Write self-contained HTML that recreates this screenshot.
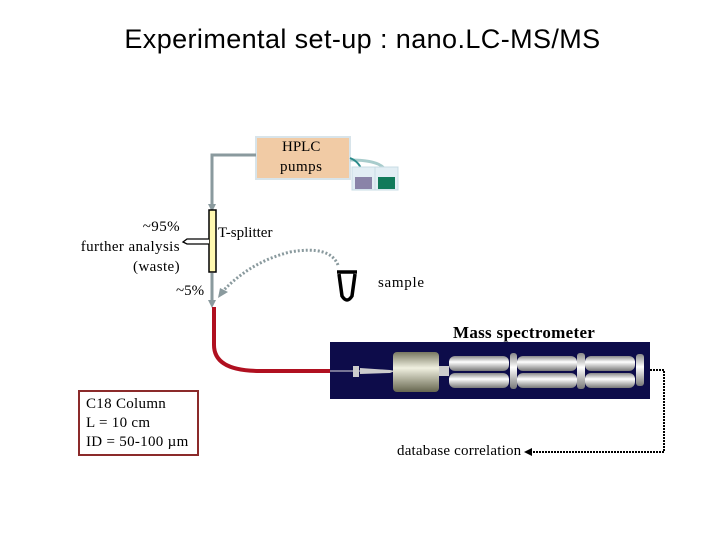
<!DOCTYPE html>
<html><head><style>
body{margin:0;width:720px;height:540px;background:#fff;position:relative;overflow:hidden;font-family:"Liberation Serif",serif;}
.t{position:absolute;white-space:nowrap;color:#000;}
</style></head><body>
<div class="t" style="left:0;width:725px;text-align:center;top:24px;font-family:'Liberation Sans',sans-serif;font-size:27px;letter-spacing:0.4px">Experimental set-up :  nano.LC-MS/MS</div>
<svg width="720" height="540" style="position:absolute;left:0;top:0">
<defs>
<linearGradient id="cyl" x1="0" y1="0" x2="0" y2="1"><stop offset="0" stop-color="#888"/><stop offset="0.4" stop-color="#fff"/><stop offset="1" stop-color="#777"/></linearGradient>
<linearGradient id="src" x1="0" y1="0" x2="0" y2="1"><stop offset="0" stop-color="#777760"/><stop offset="0.4" stop-color="#f0f0e0"/><stop offset="1" stop-color="#66664f"/></linearGradient>
</defs>
<rect x="256" y="137" width="94" height="42" fill="#f1cba5" stroke="#d8e4ea" stroke-width="2"/>
<path d="M350 160 Q380 160 385 170" fill="none" stroke="#a8cccc" stroke-width="3"/>
<path d="M350 158 Q360 162 362 172" fill="none" stroke="#2a8a8a" stroke-width="2"/>
<rect x="352" y="167" width="23" height="23" fill="#e2eef4" stroke="#c8dce4"/>
<rect x="375" y="167" width="23" height="23" fill="#e2eef4" stroke="#c8dce4"/>
<rect x="355" y="177" width="17" height="12" fill="#8a84a8"/>
<rect x="378" y="177" width="17" height="12" fill="#117a5a"/>
<path d="M256 155 H212 V206" fill="none" stroke="#8a9a9e" stroke-width="3"/>
<polygon points="208,204 216,204 212,212" fill="#8a9a9e"/>
<rect x="209" y="210" width="7" height="62" fill="#fff8b0" stroke="#000" stroke-width="1.5"/>
<path d="M209 239 H187 L183 242 L187 244 H209" fill="#fff" stroke="#000" stroke-width="1.3"/>
<path d="M212 273 V302" stroke="#8a9a9e" stroke-width="3"/>
<polygon points="208,300 216,300 212,308" fill="#8a9a9e"/>
<path d="M214 307 V345 Q214 371 260 371 H330" fill="none" stroke="#b01020" stroke-width="4"/>
<path d="M338 265 Q330 245 290 252 Q250 262 222 292" fill="none" stroke="#8a9a9e" stroke-width="3" stroke-dasharray="2,2"/>
<polygon points="218,298 220,288 228,292" fill="#8a9a9e"/>
<path d="M337 272 H357 M339 274 L342 296 Q347 304 352 296 L355 274" fill="none" stroke="#000" stroke-width="3.5"/>
<rect x="330" y="342" width="320" height="57" fill="#0d0c4a"/>
<line x1="330" y1="371" x2="360" y2="371" stroke="#ddd" stroke-width="1"/>
<rect x="353" y="366" width="6" height="11" fill="#ccc"/>
<polygon points="360,368 390,370 395,371 390,373 360,374" fill="#ccc"/>
<rect x="393" y="352" width="46" height="40" rx="4" fill="url(#src)"/>
<rect x="439" y="366" width="10" height="10" fill="#ccc"/>
<rect x="449" y="356" width="60" height="15" rx="6" fill="url(#cyl)"/>
<rect x="449" y="373" width="60" height="15" rx="6" fill="url(#cyl)"/>
<rect x="510" y="353" width="7" height="36" rx="3" fill="url(#cyl)"/>
<rect x="517" y="356" width="60" height="15" rx="6" fill="url(#cyl)"/>
<rect x="517" y="373" width="60" height="15" rx="6" fill="url(#cyl)"/>
<rect x="577" y="353" width="8" height="36" rx="3" fill="url(#cyl)"/>
<rect x="585" y="356" width="50" height="15" rx="6" fill="url(#cyl)"/>
<rect x="585" y="373" width="50" height="15" rx="6" fill="url(#cyl)"/>
<rect x="636" y="354" width="8" height="32" rx="3" fill="url(#cyl)"/>
<path d="M650 370 H664 V452 H530" fill="none" stroke="#000" stroke-width="2" stroke-dasharray="2,1"/>
<polygon points="524,452 532,448 532,456" fill="#000"/>
<rect x="79" y="391" width="119" height="64" fill="#fff" stroke="#8b2a2a" stroke-width="2"/>
</svg>
<div class="t" style="left:282px;top:139px;font-size:15px;">HPLC</div>
<div class="t" style="left:280px;top:159px;font-size:15px;letter-spacing:0.5px">pumps</div>
<div class="t" style="left:218px;top:225px;font-size:15px;">T-splitter</div>
<div class="t" style="left:70px;top:217px;width:110px;text-align:right;font-size:15px;line-height:20px;letter-spacing:0.4px">~95%<br>further analysis<br>(waste)</div>
<div class="t" style="left:176px;top:283px;font-size:15px;">~5%</div>
<div class="t" style="left:378px;top:275px;font-size:15px;letter-spacing:0.7px">sample</div>
<div class="t" style="left:453px;top:323px;font-size:17px;font-weight:bold;letter-spacing:0.3px">Mass spectrometer</div>
<div class="t" style="left:86px;top:395px;font-size:15px;line-height:19px;letter-spacing:0.3px">C18 Column<br>L = 10 cm<br>ID = 50-100 µm</div>
<div class="t" style="left:397px;top:443px;font-size:15px;letter-spacing:0.2px">database correlation</div>
</body></html>
